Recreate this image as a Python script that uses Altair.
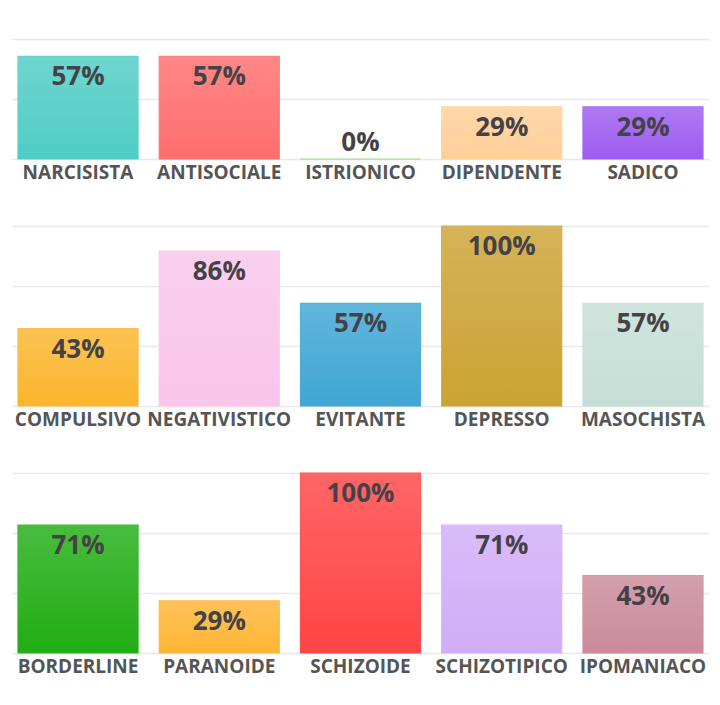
import altair as alt
import pandas as pd

# Row 1
cats1 = ["NARCISISTA", "ANTISOCIALE", "ISTRIONICO", "DIPENDENTE", "SADICO"]
vals1 = [57, 57, 0, 29, 29]
cols1 = ["#4fcdc5", "#ff6d6d", "#8fd47a", "#ffcf98", "#9d5cf0"]

# Row 2
cats2 = ["COMPULSIVO", "NEGATIVISTICO", "EVITANTE", "DEPRESSO", "MASOCHISTA"]
vals2 = [43, 86, 57, 100, 57]
cols2 = ["#fbb52e", "#f9c5eb", "#3fa6d4", "#cca233", "#c5dfd6"]

# Row 3
cats3 = ["BORDERLINE", "PARANOIDE", "SCHIZOIDE", "SCHIZOTIPICO", "IPOMANIACO"]
vals3 = [71, 29, 100, 71, 43]
cols3 = ["#21ad14", "#ffb535", "#ff4444", "#d2acf8", "#cb8a9c"]

grid_ticks = [0, 100 / 3, 200 / 3, 100]

gradient = alt.Gradient(
    gradient="linear",
    stops=[
        alt.GradientStop(color="rgba(255,255,255,0.18)", offset=0),
        alt.GradientStop(color="rgba(255,255,255,0.0)", offset=1),
    ],
    x1=0, x2=0, y1=0, y2=1,
)


def row(cats, vals, cols, ymax, height):
    df = pd.DataFrame({
        "cat": cats,
        "val": vals,
        "col": cols,
        "label": [f"{v}%" for v in vals],
    })
    x = alt.X(
        "cat:N", sort=cats,
        scale=alt.Scale(paddingInner=0.15, paddingOuter=0.0425),
        axis=alt.Axis(title=None, labelAngle=0, ticks=False, domain=False,
                      labelFont="Open Sans", labelFontWeight="bold",
                      labelFontSize=19, labelColor="#555555", labelPadding=4,
                      labelOverlap=False, labelLimit=300, grid=False),
    )
    y = alt.Y(
        "val:Q",
        scale=alt.Scale(domain=[0, ymax], nice=False, zero=True),
        axis=alt.Axis(title=None, labels=False, ticks=False, domain=False,
                      values=[t for t in grid_ticks if t <= ymax + 0.01],
                      grid=True, gridColor="#e8e8e8", gridWidth=1.5),
    )
    base = alt.Chart(df).encode(x=x)
    bars = base.mark_bar(strokeWidth=1.2, strokeOpacity=0.9).encode(
        y=y,
        fill=alt.Fill("col:N", scale=None, legend=None),
        stroke=alt.Stroke("col:N", scale=None, legend=None),
    )
    shine = base.mark_bar(fill=gradient).encode(y=alt.Y("val:Q"))
    txt_in = base.mark_text(
        baseline="top", dy=8, font="Open Sans", fontWeight="bold",
        fontSize=26, color="#444246",
    ).encode(y=alt.Y("val:Q"), text="label:N").transform_filter("datum.val > 0")
    txt_out = base.mark_text(
        baseline="bottom", dy=-3, font="Open Sans", fontWeight="bold",
        fontSize=26, color="#444246",
    ).encode(y=alt.Y("val:Q"), text="label:N").transform_filter("datum.val <= 0")
    return alt.layer(bars, shine, txt_in, txt_out).properties(width=697, height=height)


r1 = row(cats1, vals1, cols1, 200 / 3, 120)
r2 = row(cats2, vals2, cols2, 100, 180)
r3 = row(cats3, vals3, cols3, 100, 180)

chart = alt.vconcat(r1, r2, r3, spacing=67, bounds="flush").properties(
    padding={"left": 4, "top": 31, "right": 0, "bottom": 12},
    background="white",
).configure_view(stroke=None)

chart.save("out.html", embed_options={"renderer": "svg", "actions": False})
